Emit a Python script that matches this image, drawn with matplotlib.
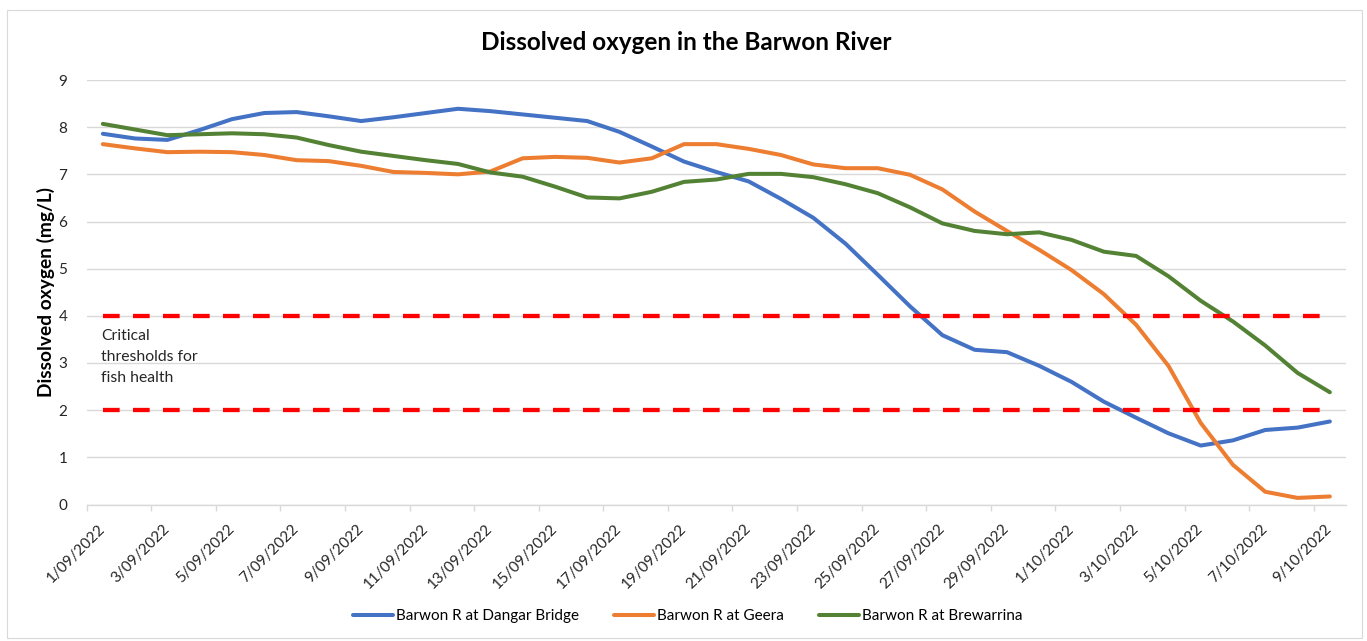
import matplotlib
matplotlib.use("Agg")
import matplotlib.pyplot as plt
from matplotlib.patches import Rectangle
import numpy as np

plt.rcParams['font.family'] = ['Lato', 'DejaVu Sans']
plt.rcParams['lines.scale_dashes'] = False

dates = ["1/09/2022", "2/09/2022", "3/09/2022", "4/09/2022", "5/09/2022", "6/09/2022",
         "7/09/2022", "8/09/2022", "9/09/2022", "10/09/2022", "11/09/2022", "12/09/2022",
         "13/09/2022", "14/09/2022", "15/09/2022", "16/09/2022", "17/09/2022", "18/09/2022",
         "19/09/2022", "20/09/2022", "21/09/2022", "22/09/2022", "23/09/2022", "24/09/2022",
         "25/09/2022", "26/09/2022", "27/09/2022", "28/09/2022", "29/09/2022", "30/09/2022",
         "1/10/2022", "2/10/2022", "3/10/2022", "4/10/2022", "5/10/2022", "6/10/2022",
         "7/10/2022", "8/10/2022", "9/10/2022"]

dangar = [7.86, 7.76, 7.73, 7.94, 8.17, 8.30, 8.32, 8.23, 8.13, 8.21, 8.30, 8.39, 8.34,
          8.27, 8.20, 8.13, 7.90, 7.59, 7.27, 7.05, 6.85, 6.48, 6.08, 5.53, 4.87, 4.20,
          3.59, 3.28, 3.23, 2.94, 2.60, 2.18, 1.84, 1.51, 1.25, 1.36, 1.58, 1.63, 1.76]
geera = [7.64, 7.55, 7.47, 7.48, 7.47, 7.41, 7.30, 7.28, 7.18, 7.05, 7.03, 7.00, 7.06,
         7.34, 7.37, 7.35, 7.25, 7.34, 7.64, 7.64, 7.54, 7.41, 7.21, 7.13, 7.13, 6.99,
         6.68, 6.21, 5.80, 5.40, 4.97, 4.46, 3.81, 2.94, 1.73, 0.84, 0.27, 0.14, 0.17]
brewarrina = [8.07, 7.95, 7.83, 7.85, 7.87, 7.85, 7.78, 7.62, 7.48, 7.39, 7.30, 7.22, 7.04,
              6.95, 6.74, 6.51, 6.49, 6.63, 6.84, 6.89, 7.01, 7.01, 6.94, 6.79, 6.60, 6.30,
              5.96, 5.80, 5.73, 5.77, 5.61, 5.36, 5.27, 4.84, 4.32, 3.88, 3.37, 2.79, 2.38]
thresholds = [4, 2]

series_names = ["Barwon R at Dangar Bridge", "Barwon R at Geera", "Barwon R at Brewarrina"]
series_colors = ["#4472C4", "#ED7D31", "#548235"]

W, H = 1367, 641
fig = plt.figure(figsize=(W / 100, H / 100), dpi=100)
fig.patches.append(Rectangle((7 / W, 3 / H), (1362 - 7) / W, (631 - 3) / H,
                             transform=fig.transFigure, fill=False,
                             edgecolor="#d9d9d9", linewidth=0.8))

ax = fig.add_axes([86.7 / W, 1 - 504.5 / H, (1346 - 86.7) / W, (504.5 - 80) / H])
x = np.arange(len(dates))

lines = []
for vals, name, col in zip([dangar, geera, brewarrina], series_names, series_colors):
    ln, = ax.plot(x, vals, color=col, lw=2.9, label=name, solid_joinstyle='round',
                  solid_capstyle='round', zorder=3)
    lines.append(ln)

for t in thresholds:
    ax.plot(x, [t] * len(x), color="#FF0000", lw=3.1, dashes=(12, 9.6), zorder=4)

ax.set_xlim(-0.5, len(dates) - 0.5)
ax.set_ylim(0, 9)
ax.set_yticks(range(0, 10))
ax.yaxis.grid(True, color="#d9d9d9", lw=1.0)
ax.set_axisbelow(True)
for s in ["left", "right", "top"]:
    ax.spines[s].set_visible(False)
ax.spines["bottom"].set_color("#d9d9d9")
ax.spines["bottom"].set_linewidth(1.0)
ax.tick_params(axis='y', length=0, pad=14, labelsize=11, labelcolor="#262626")

# major ticks = tick marks at category boundaries, minor = labels
ax.set_xticks(np.arange(-0.5, len(dates) - 0.5, 2))
ax.set_xticklabels([])
ax.tick_params(axis='x', which='major', length=4.5, color="#d9d9d9", width=1.0, direction='out')
ax.set_xticks(x[::2], minor=True)
ax.set_xticklabels(dates[::2], minor=True, rotation=45, ha='right', va='center',
                   rotation_mode='anchor', fontsize=11, color="#262626")
ax.tick_params(axis='x', which='minor', length=0, pad=16)

ax.set_ylabel("Dissolved oxygen (mg/L)", fontsize=13.8, fontweight='bold', labelpad=2.5)

fig.text(0.502, 1 - 42 / H, "Dissolved oxygen in the Barwon River", ha='center', va='center',
         fontsize=17.5, fontweight='bold', color="#000000")

ax.text(-0.05, 3.72, "Critical\nthresholds for\nfish health", ha='left', va='top',
        fontsize=11.3, color="#262626", linespacing=1.62)

fig.legend(handles=lines, labels=series_names, loc='center', bbox_to_anchor=(0.503, 1 - 616 / H),
           ncol=3, frameon=False, fontsize=11, handlelength=2.6, handletextpad=0.2,
           columnspacing=2.3)

fig.savefig("out.png", dpi=100)
